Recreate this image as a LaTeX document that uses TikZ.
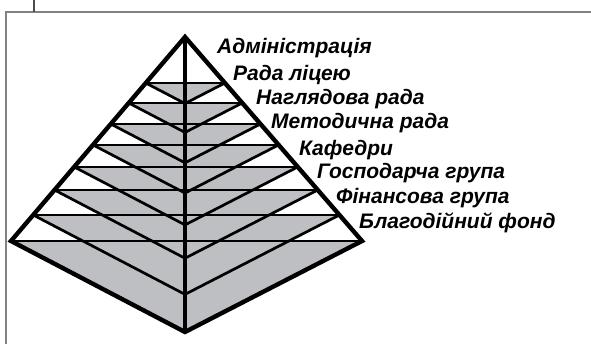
\documentclass[tikz,border=0pt]{standalone}
\usepackage{fontspec}
\setmainfont{Liberation Sans}
\usetikzlibrary{calc,intersections}
\definecolor{levelgray}{RGB}{190,191,195}
\definecolor{framegray}{RGB}{130,130,130}
\tikzset{
	outline/.style={line width=4.4pt},
	rung/.style={line width=2.7pt},
	levelname/.style={anchor=base west, inner sep=0pt, font=\fontsize{21}{25}\selectfont\bfseries\itshape}
}

\begin{document}
\begin{tikzpicture}[x=1pt,y=-1pt]
	\useasboundingbox (0,0) rectangle (591,344);
	% frame
	\draw[framegray, line width=1.3pt] (6,344) -- (6,12) -- (591,12);
	\draw[black!70, line width=1.3pt] (34,0) -- (34,12);
	% pyramid
	\coordinate (apex) at (185,37);
	\coordinate (lc) at (11,241);
	\coordinate (rc) at (362,241);
	\coordinate (tip) at (185,332);
	\foreach \t [count=\k] in {0.2255,0.3235,0.4265,0.529,0.637,0.75,0.8725,1} {
		\coordinate (L\k) at ($(apex)!\t!(lc)$);
		\coordinate (R\k) at ($(apex)!\t!(rc)$);
		\coordinate (C\k) at ($(apex)!\t!(tip)$);
		\path[name path global=\k-hz] (L\k) -- (R\k);
		\path[name path global=\k-cl] (L\k) -- (C\k);
		\path[name path global=\k-cr] (R\k) -- (C\k);
	}
	\fill[levelgray] (apex) -- (lc) -- (tip) -- (rc) -- cycle;
	\fill[white] (apex) -- (L1) -- (R1) -- cycle;
	\foreach \k [evaluate=\k as \kk using int(\k+1)] in {1,...,7} {
		\fill[white, name intersections={of=\k-cl and \kk-hz, by=pl}] (L\k) -- (L\kk) -- (pl) -- cycle;
		\fill[white, name intersections={of=\k-cr and \kk-hz, by=pr}] (R\k) -- (R\kk) -- (pr) -- cycle;
	}
	\foreach \k in {1,...,8} {
		\draw[rung] (L\k) -- (R\k);
		\draw[rung] (L\k) -- (C\k) -- (R\k);
	}
	\draw[outline] (apex) -- (lc) -- (tip) -- (rc) -- cycle;
	\draw[outline] (apex) -- (tip);
	% level names
	\node[levelname] (adm) at (217,54) {Адміністрація};
	\node[levelname] (rada) at (233,81) {Рада ліцею};
	\node[levelname] (nagl) at (256,105) {Наглядова рада};
	\node[levelname] (metod) at (271,129) {Методична рада};
	\node[levelname] (kaf) at (299,156) {Кафедри};
	\node[levelname] (gosp) at (317,179) {Господарча група};
	\node[levelname] (fin) at (336,204) {Фінансова група};
	\node[levelname] (fond) at (359,229) {Благодійний фонд};
\end{tikzpicture}
\end{document}
